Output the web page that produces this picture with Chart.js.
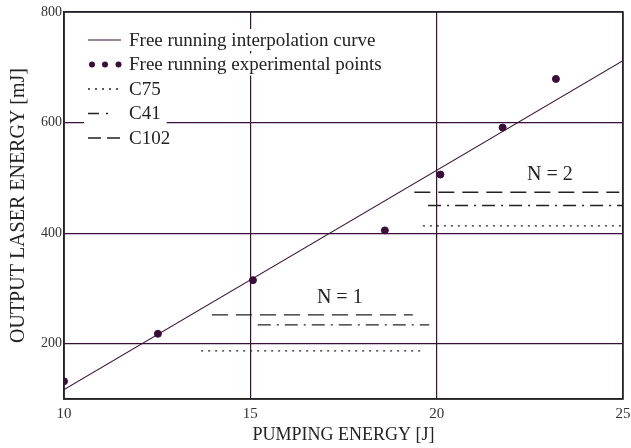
<!DOCTYPE html>
<html>
<head>
<meta charset="utf-8">
<script src="https://cdn.jsdelivr.net/npm/chart.js@4.4.1/dist/chart.umd.min.js"></script>
<style>
  html, body { margin: 0; padding: 0; background: #ffffff; }
  #wrap { width: 631px; height: 448px; position: relative; }
</style>
</head>
<body>
<div id="wrap"><canvas id="c" width="631" height="448"></canvas></div>
<script>
// Free running: linear fit end points and measured points (pumping energy J, output mJ)
const fitX = [10, 25];
const fitY = [117, 712];
const expX = [10, 12.52, 15.07, 18.61, 20.1, 21.77, 23.2];
const expY = [132, 218, 315, 405, 506, 591, 679];

// Q-switch crystal levels for one (N = 1) and two (N = 2) crystals
const c75N1X = [13.68, 19.63];  const c75N1Y = [187, 187];
const c41N1X = [15.2, 19.8];    const c41N1Y = [234, 234];
const c102N1X = [13.97, 19.36]; const c102N1Y = [252, 252];
const c75N2X = [19.63, 25];     const c75N2Y = [413, 413];
const c41N2X = [19.77, 25];     const c41N2Y = [450, 450];
const c102N2X = [19.4, 24.9];   const c102N2Y = [474, 474];

// Group labels
const groupText = ['N = 1', 'N = 2'];
const groupX = [17.4, 23.04];
const groupY = [283, 505];

// Axis ticks
const xTicks = [10, 15, 20, 25];
const yTicks = [200, 400, 600, 800];

const INK = '#3a0d3a';
const TEXT = '#222';
const SERIF = '"Liberation Serif", "DejaVu Serif", serif';

const pts = (xs, ys) => xs.map((x, i) => ({ x, y: ys[i] }));

const dashC75 = [2, 5];
const dashC41 = [13, 6, 2, 6];
const dashC102 = [16, 8];

function seg(label, xs, ys, dash, legendDash) {
  return {
    type: 'line', label, data: pts(xs, ys), borderColor: '#222', borderWidth: 1.3,
    borderDash: dash, pointRadius: 0, fill: false,
    showInLegend: !!legendDash, legendDash
  };
}

const datasets = [
  { type: 'line', label: 'Free running interpolation curve', data: pts(fitX, fitY),
    borderColor: INK, borderWidth: 1.2, pointRadius: 0, fill: false, showInLegend: true },
  { type: 'scatter', label: 'Free running experimental points', data: pts(expX, expY),
    backgroundColor: INK, borderColor: INK, pointRadius: 3.5, showInLegend: true },
  seg('C75', c75N1X, c75N1Y, dashC75, [2, 5]),
  seg('C41', c41N1X, c41N1Y, dashC41, [11, 7, 2, 20]),
  seg('C102', c102N1X, c102N1Y, dashC102, [13, 6]),
  seg('C75', c75N2X, c75N2Y, dashC75, null),
  seg('C41', c41N2X, c41N2Y, dashC41, null),
  seg('C102', c102N2X, c102N2Y, dashC102, null)
];

// Legend inside the plot, top-left, plus the N = 1 / N = 2 notes
const overlay = {
  id: 'overlay',
  afterDatasetsDraw(chart) {
    const ctx = chart.ctx;
    const xs = chart.scales.x, ys = chart.scales.y;
    ctx.save();
    ctx.font = '19px ' + SERIF;
    ctx.textBaseline = 'middle';
    let row = 0;
    chart.data.datasets.forEach(ds => {
      if (!ds.showInLegend) return;
      const y = 40 + row * 24.5;
      const x0 = 88, x1 = 121, tx = 129;
      // white backing so grid lines pass behind the entry
      const w = ctx.measureText(ds.label).width;
      ctx.fillStyle = '#fff';
      ctx.fillRect(84, y - 11, tx + w + 6 - 84, 22);
      if (ds.type === 'scatter') {
        ctx.fillStyle = INK;
        [92, 105, 118.5].forEach(cx => {
          ctx.beginPath(); ctx.arc(cx, y, 3, 0, Math.PI * 2); ctx.fill();
        });
      } else {
        ctx.strokeStyle = ds.borderColor;
        ctx.lineWidth = ds.borderWidth;
        ctx.setLineDash(ds.legendDash || []);
        ctx.beginPath(); ctx.moveTo(x0, y); ctx.lineTo(x1, y); ctx.stroke();
        ctx.setLineDash([]);
      }
      ctx.fillStyle = TEXT;
      ctx.textAlign = 'left';
      ctx.fillText(ds.label, tx, y + 1);
      row++;
    });
    ctx.font = '20px ' + SERIF;
    ctx.textAlign = 'center';
    ctx.fillStyle = TEXT;
    groupText.forEach((t, i) => {
      ctx.fillText(t, xs.getPixelForValue(groupX[i]), ys.getPixelForValue(groupY[i]));
    });
    ctx.restore();
  }
};

const frame = {
  id: 'frame',
  afterDraw(chart) {
    const a = chart.chartArea, ctx = chart.ctx;
    ctx.save();
    ctx.strokeStyle = '#222'; ctx.lineWidth = 1.5;
    ctx.strokeRect(a.left, a.top, a.right - a.left, a.bottom - a.top);
    ctx.restore();
  }
};

new Chart(document.getElementById('c'), {
  data: { datasets },
  plugins: [overlay, frame],
  options: {
    responsive: false,
    animation: false,
    layout: { padding: { top: 12, right: 8, left: 0, bottom: 0 } },
    plugins: { legend: { display: false }, tooltip: { enabled: false } },
    scales: {
      x: {
        type: 'linear', min: 10, max: 25,
        afterBuildTicks: s => { s.ticks = xTicks.map(v => ({ value: v })); },
        afterFit: s => { s.height = 49; s.paddingLeft = 0; s.paddingRight = 0; },
        grid: { color: INK, lineWidth: 1.2, drawTicks: false },
        border: { color: '#222', width: 1.5 },
        ticks: { color: '#333', font: { family: SERIF, size: 15 }, padding: 6, maxRotation: 0 },
        title: { display: true, text: 'PUMPING ENERGY [J]', color: TEXT,
                 font: { family: SERIF, size: 18 }, padding: { top: 0, bottom: 2 } }
      },
      y: {
        type: 'linear', min: 100, max: 800,
        afterBuildTicks: s => { s.ticks = yTicks.map(v => ({ value: v })); },
        afterFit: s => { s.width = 64; s.paddingTop = 0; s.paddingBottom = 0; },
        grid: { color: INK, lineWidth: 1.2, drawTicks: false },
        border: { color: '#222', width: 1.5 },
        ticks: { color: '#333', font: { family: SERIF, size: 14 }, padding: 2 },
        title: { display: true, text: 'OUTPUT LASER ENERGY [mJ]', color: TEXT,
                 font: { family: SERIF, size: 20 }, padding: { top: 7, bottom: 2 } }
      }
    }
  }
});
</script>
</body>
</html>
